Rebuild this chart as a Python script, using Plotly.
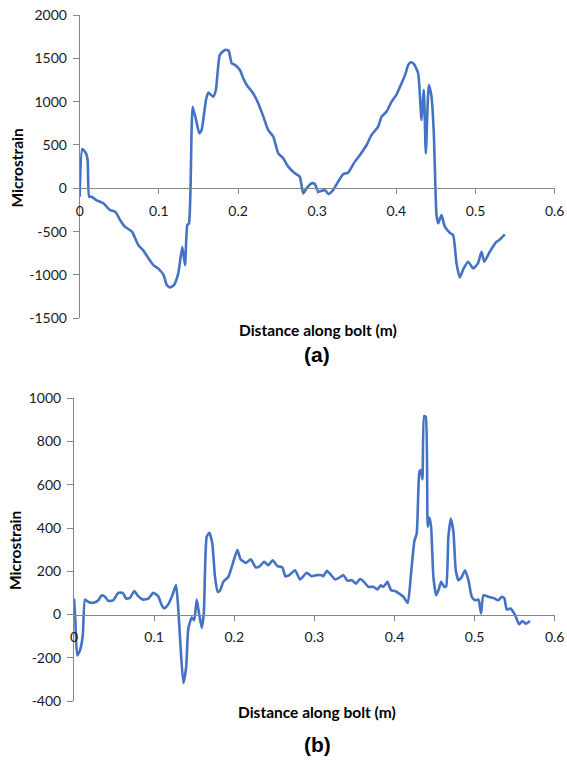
import plotly.graph_objects as go

# ---------------- data (a) ----------------
xa = [0.0, 0.0033, 0.008, 0.010, 0.012, 0.015, 0.021, 0.030, 0.038, 0.045, 0.051, 0.057, 0.066,
      0.074, 0.080, 0.087, 0.093, 0.099, 0.106, 0.110, 0.114, 0.119, 0.1245, 0.1296, 0.133,
      0.1359, 0.138, 0.140, 0.1427, 0.147, 0.151, 0.154, 0.1595, 0.1624, 0.1687, 0.172, 0.177,
      0.1835, 0.188, 0.192, 0.196, 0.2024, 0.2066, 0.211, 0.219, 0.2255, 0.232, 0.238, 0.2445,
      0.2508, 0.257, 0.2634, 0.2718, 0.278, 0.2823, 0.2866, 0.293, 0.297, 0.3013, 0.3097, 0.314,
      0.320, 0.3265, 0.333, 0.339, 0.3476, 0.354, 0.3624, 0.3687, 0.377, 0.3813, 0.3876, 0.394,
      0.400, 0.4066, 0.411, 0.415, 0.4183, 0.422, 0.4275, 0.4318, 0.4347, 0.4372, 0.441, 0.4444,
      0.4473, 0.4507, 0.4528, 0.457, 0.4612, 0.4675, 0.4717, 0.476, 0.480, 0.485, 0.4907, 0.497,
      0.503, 0.5076, 0.511, 0.518, 0.5265, 0.530, 0.537]
ya = [-97, 454, 404, 327, -97, -97, -135, -173, -250, -270, -366, -443, -500,
      -655, -713, -809, -886, -924, -1001, -1117, -1144, -1117, -982, -674, -886,
      -424, -404, 0, 942, 789, 635, 674, 1020, 1104, 1058, 1135, 1540,
      1597, 1590, 1444, 1425, 1366, 1270, 1193, 1097, 982, 827, 673, 596,
      404, 347, 250, 173, 134, -58, 0, 58, 50, -39, -20, -66,
      -20, 77, 165, 181, 308, 385, 500, 616, 712, 827, 885, 1000,
      1078, 1213, 1309, 1424, 1455, 1436, 1328, 789, 1135, 404, 1193, 1058,
      635, -308, -404, -308, -443, -513, -540, -866, -1028, -924, -847, -924,
      -866, -732, -847, -732, -617, -597, -532]

# ---------------- data (b) ----------------
xb = [0.0, 0.0017, 0.004, 0.0075, 0.011, 0.0137, 0.018, 0.024, 0.0303, 0.0346, 0.039, 0.0428,
      0.049, 0.0553, 0.0608, 0.065, 0.0699, 0.0753, 0.080, 0.0865, 0.0928, 0.099, 0.105, 0.1095,
      0.1128, 0.1178, 0.1228, 0.1273, 0.130, 0.133, 0.1365, 0.140, 0.1427, 0.147, 0.150, 0.1532,
      0.1561, 0.1594, 0.162, 0.1656, 0.169, 0.1726, 0.176, 0.1794, 0.182, 0.1864, 0.1926, 0.1989,
      0.2039, 0.208, 0.2147, 0.2206, 0.2268, 0.232, 0.2372, 0.2426, 0.248, 0.2538, 0.2600, 0.2638,
      0.2688, 0.2759, 0.2821, 0.2905, 0.2967, 0.303, 0.3092, 0.3113, 0.3155, 0.3197, 0.3259,
      0.3313, 0.3363, 0.3413, 0.3467, 0.352, 0.357, 0.362, 0.3675, 0.3737, 0.3787, 0.3829, 0.3862,
      0.3912, 0.3958, 0.4008, 0.4057, 0.4111, 0.4166, 0.4207, 0.4249, 0.4278, 0.4311, 0.4328,
      0.4349, 0.437, 0.439, 0.4415, 0.4436, 0.4457, 0.4486, 0.452, 0.455, 0.4582, 0.462, 0.4645,
      0.4673, 0.4703, 0.4736, 0.4765, 0.4798, 0.484, 0.4881, 0.4923, 0.4965, 0.5006, 0.5048,
      0.5081, 0.511, 0.5172, 0.5235, 0.5297, 0.534, 0.5372, 0.5402, 0.545, 0.5506, 0.5556,
      0.5597, 0.564, 0.5693]
yb = [74, -26, -188, -165, -96, 69, 58, 54, 66, 89, 81, 63,
      66, 100, 100, 74, 77, 109, 85, 69, 74, 100, 85, 43,
      28, 48, 89, 136, 35, -150, -317, -243, -65, -14, -26, 69,
      5, -62, 5, 359, 378, 329, 174, 105, 109, 151, 174, 244,
      298, 255, 239, 255, 218, 224, 244, 228, 251, 224, 218, 177,
      182, 205, 162, 193, 177, 182, 182, 177, 202, 188, 162,
      171, 182, 156, 159, 143, 164, 151, 128, 128, 116, 135, 128,
      151, 112, 109, 97, 82, 54, 190, 341, 375, 660, 668,
      625, 918, 915, 406, 449, 406, 174, 89, 113, 151, 128, 131,
      359, 444, 382, 205, 159, 174, 205, 159, 82, 66, 69,
      5, 89, 82, 77, 66, 82, 74, 23, 28, -3, -45,
      -30, -42, -30]

# tick labels
xticks = [0, 0.1, 0.2, 0.3, 0.4, 0.5, 0.6]
xtick_text = ["0", "0.1", "0.2", "0.3", "0.4", "0.5", "0.6"]
ya_ticks = [-1500, -1000, -500, 0, 500, 1000, 1500, 2000]
ya_text = ["-1500", "-1000", "-500", "0", "500", "1000", "1500", "2000"]
yb_ticks = [-400, -200, 0, 200, 400, 600, 800, 1000]
yb_text = ["-400", "-200", "0", "200", "400", "600", "800", "1000"]

x_title = "Distance along bolt (m)"
y_title = "Microstrain"
panel_labels = ["(a)", "(b)"]

W, H = 567, 762
LINE = "#4472C4"
AXC = "#868686"
FONT = "Lato"
TICKC = "#1a1a1a"


def px(x):
    return x / W


def py(y):
    return 1 - y / H


fig = go.Figure()
fig.add_trace(go.Scatter(x=xa, y=ya, mode="lines", xaxis="x", yaxis="y",
                         line=dict(color=LINE, width=2.6, shape="spline", smoothing=0.5),
                         showlegend=False, hoverinfo="skip"))
fig.add_trace(go.Scatter(x=xb, y=yb, mode="lines", xaxis="x2", yaxis="y2",
                         line=dict(color=LINE, width=2.6, shape="spline", smoothing=0.5),
                         showlegend=False, hoverinfo="skip"))

tickfont = dict(family=FONT, size=14, color=TICKC)

# panel geometry (page pixels)
top_y0, top_y1 = 15.0, 318.3     # 2000 .. -1500
top_x0, top_x1 = 79.7, 554.7
bot_y0, bot_y1 = 398.3, 701.0    # 1000 .. -400
bot_x0, bot_x1 = 74.0, 554.7

zero_top = top_y0 + (2000 / 3500) * (top_y1 - top_y0)
zero_bot = bot_y0 + (1000 / 1400) * (bot_y1 - bot_y0)

common_x = dict(range=[0, 0.6], tickvals=xticks, ticktext=xtick_text, showgrid=False,
                zeroline=False, showline=True, linecolor=AXC, linewidth=1,
                ticks="outside", ticklen=5, tickcolor=AXC, tickfont=tickfont,
                anchor="free", automargin=False, ticklabelstandoff=5,
                ticklabeloverflow="allow")
common_y = dict(showgrid=False, zeroline=False, showline=True, linecolor=AXC, linewidth=1,
                ticks="outside", ticklen=6, tickcolor=AXC, tickfont=tickfont,
                automargin=False, ticklabelstandoff=3, ticklabeloverflow="allow")

fig.update_layout(
    template="none",
    width=W, height=H, margin=dict(l=0, r=0, t=0, b=0, autoexpand=False),
    paper_bgcolor="white", plot_bgcolor="white",
    xaxis=dict(domain=[px(top_x0), px(top_x1)], position=py(zero_top), **common_x),
    yaxis=dict(domain=[py(top_y1), py(top_y0)], range=[-1500, 2000],
               tickvals=ya_ticks, ticktext=ya_text, anchor="x", **common_y),
    xaxis2=dict(domain=[px(bot_x0), px(bot_x1)], position=py(zero_bot), **common_x),
    yaxis2=dict(domain=[py(bot_y1), py(bot_y0)], range=[-400, 1000],
                tickvals=yb_ticks, ticktext=yb_text, anchor="x2", **common_y),
)

ann = []
titlefont = dict(family=FONT, size=15.5, color="black", weight="bold")
for (cx, cy) in [(318, 330), (317, 712)]:
    ann.append(dict(x=px(cx), y=py(cy), xref="paper", yref="paper", text=x_title,
                    showarrow=False, xanchor="center", yanchor="middle", font=titlefont))
for (cx, cy) in [(16.5, 168), (15, 551)]:
    ann.append(dict(x=px(cx), y=py(cy), xref="paper", yref="paper", text=y_title,
                    showarrow=False, xanchor="center", yanchor="middle", textangle=-90,
                    font=titlefont))
for lab, (cx, cy) in zip(panel_labels, [(317, 354), (317, 744)]):
    ann.append(dict(x=px(cx), y=py(cy), xref="paper", yref="paper", text=lab,
                    showarrow=False, xanchor="center", yanchor="middle",
                    font=dict(family="Liberation Sans", size=21, color="black", weight="bold")))
fig.update_layout(annotations=ann)

fig.write_html(
    "out.html",
    config={"displayModeBar": False, "staticPlot": True},
    post_script="document.body.style.margin='0';document.body.style.overflow='hidden';",
)
